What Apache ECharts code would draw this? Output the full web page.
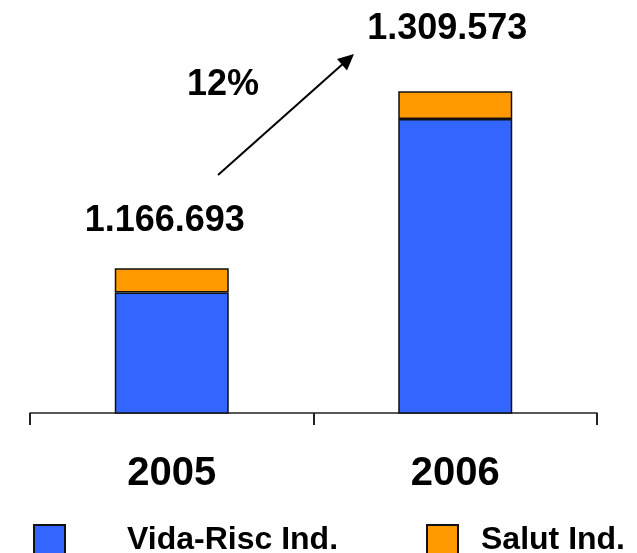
<!DOCTYPE html>
<html>
<head>
<meta charset="utf-8">
<script src="https://cdn.jsdelivr.net/npm/echarts@6/dist/echarts.min.js"></script>
<style>
html,body{margin:0;padding:0;background:#fff;}
#chart{width:637px;height:553px;}
</style>
</head>
<body>
<div id="chart"></div>
<script>
const categories = ['2005', '2006'];
const vidaRisc = [1147100, 1287000];
const salut = [19593, 22573];
const totalLabels = ['1.166.693', '1.309.573'];
const growthLabel = '12%';
const seriesNames = ['Vida-Risc Ind.', 'Salut Ind.'];

const FONT = 'Arial, "Liberation Sans", sans-serif';
const labelPos = [
  { distance: 29, offset: [-7, 0] },
  { distance: 44, offset: [-8, 0] }
];

const chart = echarts.init(document.getElementById('chart'), null, { renderer: 'canvas' });
chart.setOption({
  animation: false,
  backgroundColor: '#ffffff',
  grid: { left: 30, right: 40, top: 41, bottom: 140 },
  xAxis: {
    type: 'category',
    data: categories,
    boundaryGap: true,
    axisLine: { show: true, lineStyle: { color: '#222', width: 1.5 } },
    axisTick: { show: true, length: 12, lineStyle: { color: '#222', width: 2 } },
    axisLabel: { fontFamily: FONT, fontSize: 40, fontWeight: 'bold', color: '#000', margin: 41 }
  },
  yAxis: {
    type: 'value',
    min: 1050000,
    max: 1350000,
    show: false,
    splitLine: { show: false }
  },
  legend: [
    {
      data: [seriesNames[0]],
      left: 33, top: 524, padding: 0,
      itemWidth: 31, itemHeight: 31,
      icon: 'rect',
      textStyle: { fontFamily: FONT, fontSize: 32, fontWeight: 'bold', color: '#000', lineHeight: 31, padding: [0, 0, 0, 57] }
    },
    {
      data: [seriesNames[1]],
      left: 426, top: 524, padding: 0,
      itemWidth: 31, itemHeight: 31,
      icon: 'rect',
      textStyle: { fontFamily: FONT, fontSize: 32, fontWeight: 'bold', color: '#000', lineHeight: 31, padding: [0, 0, 0, 18] }
    }
  ],
  series: [
    {
      name: seriesNames[0],
      type: 'bar',
      stack: 'total',
      barWidth: 114,
      clip: true,
      itemStyle: { color: '#3366FF', borderColor: '#111', borderWidth: 1.5 },
      data: vidaRisc
    },
    {
      name: seriesNames[1],
      type: 'bar',
      stack: 'total',
      barWidth: 114,
      clip: true,
      itemStyle: { color: '#FF9900', borderColor: '#111', borderWidth: 1.5 },
      label: {
        show: true,
        position: 'top',
        fontFamily: FONT,
        fontSize: 36,
        fontWeight: 'bold',
        color: '#000',
        formatter: p => totalLabels[p.dataIndex]
      },
      data: salut.map((v, i) => ({ value: v, label: labelPos[i] }))
    }
  ],
  graphic: [
    {
      type: 'line',
      shape: { x1: 218, y1: 175, x2: 345, y2: 62 },
      style: { stroke: '#000', lineWidth: 2 }
    },
    {
      type: 'polygon',
      shape: { points: [[354, 54], [347, 70.5], [337, 59]] },
      style: { fill: '#000' }
    },
    {
      type: 'text',
      x: 223, y: 85,
      style: {
        text: growthLabel,
        font: 'bold 36px ' + FONT,
        fill: '#000',
        align: 'center',
        verticalAlign: 'middle'
      }
    }
  ]
});
</script>
</body>
</html>
